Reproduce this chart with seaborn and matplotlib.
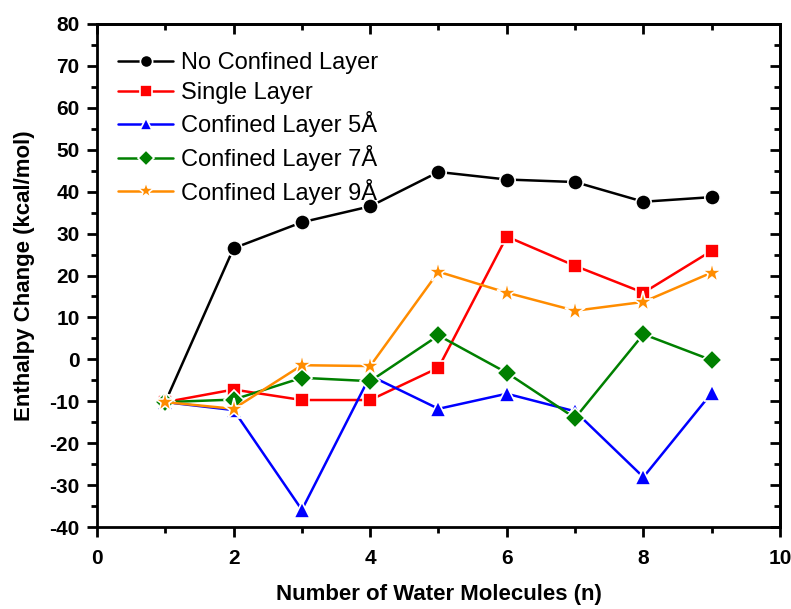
import pandas as pd
import matplotlib
matplotlib.use("Agg")
import matplotlib.pyplot as plt
import seaborn as sns
from matplotlib.ticker import MultipleLocator

# Dados
n_water = [1, 2, 3, 4, 5, 6, 7, 8, 9]
no_confined = [-10.2, 26.5, 32.7, 36.5, 44.7, 42.9, 42.3, 37.6, 38.7]
single_layer = [-10.2, -7.2, -9.7, -9.7, -2.0, 29.3, 22.3, 15.9, 25.9]
confined_5 = [-10.2, -12.1, -35.9, -3.9, -11.8, -8.2, -12.4, -28.1, -8.0]
confined_7 = [-10.2, -9.6, -4.4, -5.2, 5.7, -3.2, -14.0, 6.0, -0.2]
confined_9 = [-10.2, -11.8, -1.4, -1.6, 20.9, 15.9, 11.6, 13.7, 20.7]

series_names = ["No Confined Layer", "Single Layer", "Confined Layer 5Å",
                "Confined Layer 7Å", "Confined Layer 9Å"]
series_values = [no_confined, single_layer, confined_5, confined_7, confined_9]
cores = ["#000000", "#ff0000", "#0000ff", "#008000", "#ff8c00"]
marcadores = ["o", "s", "^", "D", "*"]
tamanhos = [11, 10, 11.5, 10, 15.5]

df = pd.concat([
    pd.DataFrame({"n": n_water, "valor": vals, "serie": nome})
    for nome, vals in zip(series_names, series_values)
], ignore_index=True)

sns.set_style("ticks")
plt.rcParams["font.family"] = ["Liberation Sans", "DejaVu Sans"]
plt.rcParams["axes.unicode_minus"] = False
for k in ["text.color", "axes.labelcolor", "xtick.color", "ytick.color",
          "axes.edgecolor"]:
    plt.rcParams[k] = "black"

fig = plt.figure(figsize=(7.91, 6.09), dpi=100)
ax = fig.add_axes([0.1226, 0.1346, 0.8635, 0.826])

for nome, cor, mk, ms in zip(series_names, cores, marcadores, tamanhos):
    sub = df[df["serie"] == nome]
    sns.lineplot(data=sub, x="n", y="valor", ax=ax, color=cor, marker=mk,
                 markersize=ms, markeredgecolor="white", markeredgewidth=1.2,
                 linewidth=1.8, label=nome)

ax.set_xlim(0, 10)
ax.set_ylim(-40, 80)
ax.xaxis.set_major_locator(MultipleLocator(2))
ax.xaxis.set_minor_locator(MultipleLocator(1))
ax.yaxis.set_major_locator(MultipleLocator(10))
ax.yaxis.set_minor_locator(MultipleLocator(5))

ax.tick_params(which="major", direction="out", length=7.5, width=2,
               labelsize=15)
ax.tick_params(which="minor", direction="out", length=4, width=2)
ax.tick_params(axis="x", pad=8)
ax.tick_params(axis="y", pad=5)
for lab in ax.get_xticklabels() + ax.get_yticklabels():
    lab.set_fontweight("bold")

for s in ax.spines.values():
    s.set_linewidth(2)
    s.set_visible(True)

# ticks espelhados (para dentro) em cima e à direita
top = ax.secondary_xaxis("top")
top.xaxis.set_major_locator(MultipleLocator(2))
top.xaxis.set_minor_locator(MultipleLocator(1))
top.tick_params(which="major", direction="in", length=7.5, width=2, labeltop=False)
top.tick_params(which="minor", direction="in", length=4, width=2)
top.spines["top"].set_linewidth(2)
right = ax.secondary_yaxis("right")
right.yaxis.set_major_locator(MultipleLocator(10))
right.yaxis.set_minor_locator(MultipleLocator(5))
right.tick_params(which="major", direction="in", length=7.5, width=2, labelright=False)
right.tick_params(which="minor", direction="in", length=4, width=2)
right.spines["right"].set_linewidth(2)

ax.set_xlabel("Number of Water Molecules (n)", fontsize=16, fontweight="bold",
              labelpad=12)
ax.set_ylabel("Enthalpy Change (kcal/mol)", fontsize=16, fontweight="bold",
              labelpad=10)

leg = ax.legend(loc="upper left", bbox_to_anchor=(-0.01, 1.0), frameon=False,
                fontsize=17, handlelength=2.3, handletextpad=0.35,
                labelspacing=0.32, markerscale=0.8, borderaxespad=0.8)

fig.savefig("out.png", dpi=100)
